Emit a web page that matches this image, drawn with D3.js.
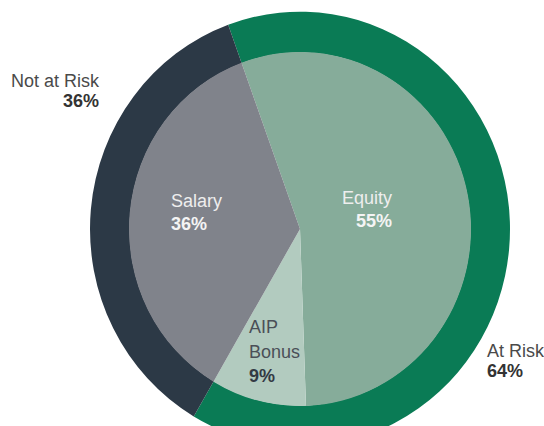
<!DOCTYPE html>
<html>
<head>
<meta charset="utf-8">
<script src="https://cdn.jsdelivr.net/npm/d3@7"></script>
<style>
  body { margin: 0; background: #fff; }
  svg { display: block; font-family: "Liberation Sans", Arial, sans-serif; }
  .lbl { font-size: 18px; }
  .pct { font-weight: bold; }
</style>
</head>
<body>
<div id="chart"></div>
<script>
// data
var innerNames = ["Equity", "AIP Bonus", "Salary"];
var innerValues = [55, 9, 36];
var outerNames = ["At Risk", "Not at Risk"];
var outerValues = [64, 36];

var innerColors = ["#86ac9a", "#b2cbbf", "#80838b"];
var outerColors = ["#0a7b55", "#2c3946"];

var width = 544, height = 426;
var cx = 300, cy = 229;
var rOuter = 210, rInner = 171;
var stretchY = 1.035; // picture is a touch taller than wide
var startAngle = -20 * Math.PI / 180;

var svg = d3.select("#chart").append("svg")
  .attr("width", width)
  .attr("height", height);

var g = svg.append("g")
  .attr("transform", "translate(" + cx + "," + cy + ") scale(1," + stretchY + ")");

var pie = d3.pie()
  .sort(null)
  .value(d => d)
  .startAngle(startAngle)
  .endAngle(startAngle + 2 * Math.PI);

// outer ring
var ringArc = d3.arc().innerRadius(rInner - 0.5).outerRadius(rOuter);
g.selectAll("path.ring")
  .data(pie(outerValues))
  .enter()
  .append("path")
  .attr("class", "ring")
  .attr("d", ringArc)
  .attr("fill", (d, i) => outerColors[i]);

// inner pie
var pieArc = d3.arc().innerRadius(0).outerRadius(rInner);
g.selectAll("path.slice")
  .data(pie(innerValues))
  .enter()
  .append("path")
  .attr("class", "slice")
  .attr("d", pieArc)
  .attr("fill", (d, i) => innerColors[i]);

// labels: offsets from centre, one per line
var labels = [
  { lines: ["Not at Risk", outerValues[1] + "%"], x: -201, y: [-142, -122], anchor: "end", color: ["#4a4a4a", "#333"] },
  { lines: ["Salary", innerValues[2] + "%"], x: -129, y: [-22, 1], anchor: "start", color: ["#eeeeee", "#f4f4f4"] },
  { lines: ["Equity", innerValues[0] + "%"], x: 92, y: [-25, -2], anchor: "end", color: ["#eeeeee", "#f4f4f4"] },
  { lines: ["AIP", "Bonus", innerValues[1] + "%"], x: -51, y: [104, 129, 153], anchor: "start", color: ["#4a4f57", "#4a4f57", "#333a44"] },
  { lines: ["At Risk", outerValues[0] + "%"], x: 187, y: [128, 148], anchor: "start", color: ["#4a4a4a", "#333"] }
];

labels.forEach(function(l) {
  l.lines.forEach(function(t, i) {
    svg.append("text")
      .attr("class", "lbl" + (i == l.lines.length - 1 ? " pct" : ""))
      .attr("x", cx + l.x)
      .attr("y", cy + l.y[i])
      .attr("text-anchor", l.anchor)
      .attr("fill", l.color[i])
      .text(t);
  });
});
</script>
</body>
</html>
